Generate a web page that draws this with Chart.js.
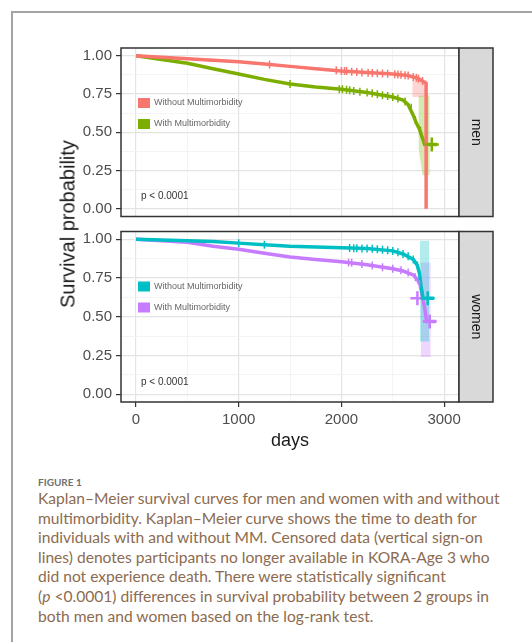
<!DOCTYPE html>
<html>
<head>
<meta charset="utf-8">
<script src="https://cdn.jsdelivr.net/npm/chart.js@4.4.1/dist/chart.umd.min.js"></script>
<style>
  body { margin: 0; width: 532px; height: 642px; overflow: hidden; position: relative; background: #fff; font-family: "Liberation Sans", Arial, sans-serif; }
  #frame { position: absolute; left: 11px; top: 11px; width: 560px; height: 680px; border-left: 2px solid #a3a3a3; border-top: 2px solid #a3a3a3; }
  canvas { position: absolute; left: 0; }
  #menChart { top: 0; }
  #womenChart { top: 222px; }
  #ytitle { position: absolute; left: 68px; top: 224px; transform: translate(-50%, -50%) rotate(-90deg); font-size: 20px; color: #1a1a1a; white-space: nowrap; }
  #figlabel { position: absolute; left: 38px; top: 476px; font-family: Lato, "Open Sans", sans-serif; font-weight: bold; font-size: 10px; color: #707070; }
  #caption { position: absolute; left: 38px; top: 489px; font-family: Lato, "Open Sans", sans-serif; font-size: 15.6px; line-height: 19.6px; color: #8c6b50; white-space: nowrap; }
</style>
</head>
<body>
<div id="frame"></div>
<canvas id="menChart" width="532" height="226"></canvas>
<canvas id="womenChart" width="532" height="238"></canvas>
<div id="ytitle">Survival probability</div>
<div id="figlabel">FIGURE 1</div>
<div id="caption">Kaplan–Meier survival curves for men and women with and without<br>multimorbidity. Kaplan–Meier curve shows the time to death for<br>individuals with and without MM. Censored data (vertical sign-on<br>lines) denotes participants no longer available in KORA-Age 3 who<br>did not experience death. There were statistically significant<br>(<i>p</i> &lt;0.0001) differences in survival probability between 2 groups in<br>both men and women based on the log-rank test.</div>
<script>
// axis ticks (major + minor grid positions)
const xTicks = [0, 500, 1000, 1500, 2000, 2500, 3000];
const yTicks = [0, 0.125, 0.25, 0.375, 0.5, 0.625, 0.75, 0.875, 1];
const groupLabels = ['Without Multimorbidity', 'With Multimorbidity'];
const pValueText = 'p < 0.0001';

// men, without multimorbidity
const menWithoutDays = [0, 250, 500, 750, 1000, 1250, 1500, 1750, 2000, 2250, 2500, 2650, 2750, 2800, 2825, 2825];
const menWithoutSurv = [1.0, 0.99, 0.98, 0.97, 0.96, 0.945, 0.93, 0.915, 0.90, 0.89, 0.88, 0.87, 0.85, 0.83, 0.82, 0.0];
const menWithoutCensDays = [1300, 1950, 2000, 2030, 2050, 2100, 2150, 2200, 2260, 2300, 2350, 2400, 2450, 2520, 2550, 2580, 2620, 2650, 2700, 2730, 2750, 2790];
const menWithoutCensSurv = [0.942, 0.905, 0.90, 0.90, 0.90, 0.895, 0.893, 0.89, 0.888, 0.886, 0.885, 0.884, 0.882, 0.879, 0.877, 0.875, 0.872, 0.87, 0.86, 0.855, 0.85, 0.835];
const menWithoutBandDays = [2690, 2830];
const menWithoutBandHi = [0.84, 0.84];
const menWithoutBandLo = [0.73, 0.73];

// men, with multimorbidity
const menWithDays = [0, 250, 500, 750, 1000, 1250, 1500, 1750, 2000, 2250, 2500, 2600, 2650, 2700, 2730, 2760, 2790, 2810, 2930];
const menWithSurv = [1.0, 0.975, 0.95, 0.915, 0.88, 0.845, 0.815, 0.795, 0.78, 0.76, 0.73, 0.71, 0.68, 0.61, 0.56, 0.52, 0.46, 0.42, 0.42];
const menWithCensDays = [1500, 1980, 2010, 2050, 2080, 2120, 2180, 2250, 2300, 2350, 2400, 2450, 2500, 2550, 2620, 2680, 2720, 2770];
const menWithCensSurv = [0.815, 0.78, 0.78, 0.778, 0.775, 0.77, 0.765, 0.76, 0.754, 0.748, 0.742, 0.736, 0.73, 0.72, 0.70, 0.66, 0.58, 0.51];
const menWithBandDays = [2750, 2790, 2860];
const menWithBandHi = [0.74, 0.74, 0.74];
const menWithBandLo = [0.40, 0.22, 0.22];
const menEndDays = [2880];
const menEndSurv = [0.42];

// women, without multimorbidity
const womenWithoutDays = [0, 250, 500, 750, 1000, 1250, 1500, 1750, 2000, 2250, 2500, 2600, 2700, 2740, 2760, 2775, 2795, 2900];
const womenWithoutSurv = [1.0, 0.995, 0.99, 0.985, 0.975, 0.965, 0.955, 0.95, 0.945, 0.94, 0.925, 0.905, 0.87, 0.83, 0.78, 0.70, 0.62, 0.62];
const womenWithoutCensDays = [1000, 1250, 2080, 2120, 2150, 2200, 2250, 2300, 2350, 2400, 2450, 2500, 2550, 2600, 2650, 2700, 2740];
const womenWithoutCensSurv = [0.975, 0.965, 0.943, 0.942, 0.942, 0.941, 0.94, 0.938, 0.935, 0.932, 0.929, 0.925, 0.916, 0.905, 0.89, 0.87, 0.83];
const womenWithoutBandDays = [2765, 2855];
const womenWithoutBandHi = [0.99, 0.99];
const womenWithoutBandLo = [0.34, 0.34];
const womenWithoutEndDays = [2840];
const womenWithoutEndSurv = [0.62];

// women, with multimorbidity
const womenWithDays = [0, 250, 500, 750, 1000, 1250, 1500, 1750, 2000, 2250, 2500, 2600, 2700, 2740, 2770, 2790, 2810, 2830, 2920];
const womenWithSurv = [1.0, 0.99, 0.98, 0.955, 0.935, 0.91, 0.885, 0.87, 0.855, 0.835, 0.81, 0.795, 0.77, 0.74, 0.70, 0.62, 0.56, 0.47, 0.47];
const womenWithCensDays = [2070, 2100, 2200, 2300, 2400, 2500, 2580, 2650, 2720, 2760];
const womenWithCensSurv = [0.85, 0.848, 0.84, 0.83, 0.82, 0.81, 0.80, 0.785, 0.755, 0.71];
const womenWithBandDays = [2775, 2870];
const womenWithBandHi = [0.85, 0.85];
const womenWithBandLo = [0.24, 0.24];
const womenWithEndDays = [2740, 2860];
const womenWithEndSurv = [0.62, 0.47];

const pts = (xs, ys) => xs.map((x, i) => ({ x: x, y: ys[i] }));

function curve(xs, ys, color) {
    return { data: pts(xs, ys), borderColor: color, borderWidth: 3.5, pointRadius: 0, fill: false, tension: 0, order: 2 };
}
function censor(xs, ys, color) {
    return { data: pts(xs, ys), showLine: false, borderColor: color, borderWidth: 1.5, pointStyle: 'line', rotation: 90, pointRadius: 4, order: 1 };
}
function endMark(xs, ys, color) {
    return { data: pts(xs, ys), showLine: false, borderColor: color, borderWidth: 2.5, pointStyle: 'cross', pointRadius: 7, order: 1 };
}
function band(xs, hi, lo, color) {
    return [
        { data: pts(xs, hi), borderWidth: 0, pointRadius: 0, fill: false, order: 3 },
        { data: pts(xs, lo), borderWidth: 0, pointRadius: 0, fill: '-1', backgroundColor: color, order: 3 }
    ];
}

// panel border, facet strip, legend and p-value drawn like ggsurvplot
const panelDecor = {
    id: 'panelDecor',
    afterDraw(chart, args, opts) {
        const ctx = chart.ctx;
        const a = chart.chartArea;
        const h = a.bottom - a.top;
        ctx.save();
        // legend
        ctx.font = '9px "Liberation Sans", Arial, sans-serif';
        ctx.textBaseline = 'middle';
        opts.colors.forEach((c, i) => {
            ctx.fillStyle = c;
            ctx.fillRect(a.left + 17, a.top + 50 + i * 21, 12, 10);
            ctx.fillStyle = '#666';
            ctx.fillText(groupLabels[i], a.left + 33, a.top + 55 + i * 21);
        });
        ctx.font = '10px "Liberation Sans", Arial, sans-serif';
        ctx.fillStyle = '#333';
        ctx.fillText(pValueText, a.left + 20, a.bottom - 20);
        // border
        ctx.strokeStyle = '#333';
        ctx.lineWidth = 1.5;
        ctx.strokeRect(a.left, a.top, a.right - a.left, h);
        // strip
        ctx.fillStyle = '#d9d9d9';
        ctx.fillRect(a.right, a.top, 34, h);
        ctx.strokeRect(a.right, a.top, 34, h);
        ctx.translate(a.right + 17, a.top + h / 2);
        ctx.rotate(Math.PI / 2);
        ctx.fillStyle = '#1a1a1a';
        ctx.font = '14px "Liberation Sans", Arial, sans-serif';
        ctx.textAlign = 'center';
        ctx.fillText(opts.strip, 0, 0);
        ctx.restore();
    }
};

const isMajorY = v => Math.abs(v * 4 - Math.round(v * 4)) < 1e-6;
const isMajorX = v => v % 1000 === 0;

function noPad(axis) {
    axis.paddingTop = 0;
    axis.paddingBottom = 0;
    axis.paddingLeft = 0;
    axis.paddingRight = 0;
}

function makeOptions(strip, colors, showX, pad) {
    return {
        responsive: false,
        animation: false,
        devicePixelRatio: 1,
        layout: { padding: pad },
        plugins: {
            legend: { display: false },
            tooltip: { enabled: false },
            panelDecor: { strip: strip, colors: colors }
        },
        scales: {
            x: {
                type: 'linear',
                min: -146,
                max: 3145,
                afterBuildTicks: axis => { axis.ticks = xTicks.map(v => ({ value: v })); },
                afterFit: axis => { axis.height = showX ? 50 : 0; noPad(axis); },
                border: { display: false },
                grid: {
                    drawTicks: showX,
                    tickLength: 5,
                    color: ctx => isMajorX(ctx.tick.value) ? '#e4e4e4' : '#f1f1f1',
                    lineWidth: ctx => isMajorX(ctx.tick.value) ? 1.2 : 0.8,
                    tickColor: ctx => isMajorX(ctx.tick.value) ? '#333' : 'rgba(0,0,0,0)'
                },
                ticks: {
                    display: showX,
                    padding: 4,
                    maxRotation: 0,
                    color: '#4d4d4d',
                    font: { size: 15, family: '"Liberation Sans", Arial, sans-serif' },
                    callback: v => isMajorX(v) ? String(v) : ''
                },
                title: {
                    display: showX,
                    text: 'days',
                    color: '#1a1a1a',
                    padding: 0,
                    font: { size: 18, family: '"Liberation Sans", Arial, sans-serif' }
                }
            },
            y: {
                min: -0.05,
                max: 1.05,
                afterBuildTicks: axis => { axis.ticks = yTicks.map(v => ({ value: v })); },
                afterFit: axis => { axis.width = 60; noPad(axis); },
                border: { display: false },
                grid: {
                    tickLength: 5,
                    color: ctx => isMajorY(ctx.tick.value) ? '#e4e4e4' : '#f1f1f1',
                    lineWidth: ctx => isMajorY(ctx.tick.value) ? 1.2 : 0.8,
                    tickColor: ctx => isMajorY(ctx.tick.value) ? '#333' : 'rgba(0,0,0,0)'
                },
                ticks: {
                    padding: 4,
                    color: '#4d4d4d',
                    font: { size: 15, family: '"Liberation Sans", Arial, sans-serif' },
                    callback: v => isMajorY(v) ? v.toFixed(2) : ''
                }
            }
        }
    };
}

Chart.register(panelDecor);

new Chart(document.getElementById('menChart'), {
    type: 'line',
    data: {
        datasets: [
            ...band(menWithoutBandDays, menWithoutBandHi, menWithoutBandLo, 'rgba(248,118,109,0.3)'),
            ...band(menWithBandDays, menWithBandHi, menWithBandLo, 'rgba(124,174,0,0.3)'),
            curve(menWithoutDays, menWithoutSurv, '#F8766D'),
            curve(menWithDays, menWithSurv, '#7CAE00'),
            censor(menWithoutCensDays, menWithoutCensSurv, '#F8766D'),
            censor(menWithCensDays, menWithCensSurv, '#7CAE00'),
            endMark(menEndDays, menEndSurv, '#7CAE00')
        ]
    },
    options: makeOptions('men', ['#F8766D', '#7CAE00'], false, { left: 61, right: 73, top: 48, bottom: 6 })
});

new Chart(document.getElementById('womenChart'), {
    type: 'line',
    data: {
        datasets: [
            ...band(womenWithoutBandDays, womenWithoutBandHi, womenWithoutBandLo, 'rgba(0,191,196,0.3)'),
            ...band(womenWithBandDays, womenWithBandHi, womenWithBandLo, 'rgba(199,124,255,0.3)'),
            curve(womenWithoutDays, womenWithoutSurv, '#00BFC4'),
            curve(womenWithDays, womenWithSurv, '#C77CFF'),
            censor(womenWithoutCensDays, womenWithoutCensSurv, '#00BFC4'),
            censor(womenWithCensDays, womenWithCensSurv, '#C77CFF'),
            endMark(womenWithoutEndDays, womenWithoutEndSurv, '#00BFC4'),
            endMark(womenWithEndDays, womenWithEndSurv, '#C77CFF')
        ]
    },
    options: makeOptions('women', ['#00BFC4', '#C77CFF'], true, { left: 61, right: 73, top: 9, bottom: 8 })
});
</script>
</body>
</html>
